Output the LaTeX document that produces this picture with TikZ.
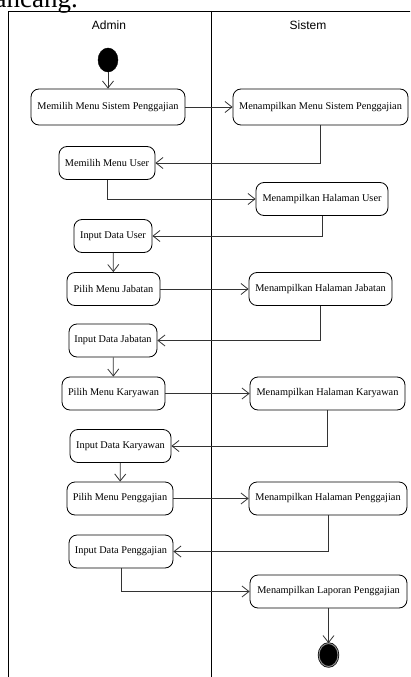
\documentclass[tikz,border=0pt]{standalone}
\usepackage{fontspec}
\setmainfont{Liberation Serif}
\newfontfamily\lanefont{Liberation Sans}
\usetikzlibrary{arrows.meta,shapes.geometric}

\tikzset{
  act/.style={draw=black, line width=0.8pt, rounded corners=8pt,
    minimum height=33pt, inner sep=2pt, font=\fontsize{10.3}{12}\selectfont},
  flow/.style={draw=black!80, line width=0.8pt,
    -{Straight Barb[length=7pt,width=11pt,line width=0.8pt]}},
  lane/.style={draw=black, line width=0.9pt},
  lanehead/.style={font=\lanefont\fontsize{12}{14}\selectfont},
  startdot/.style={ellipse, fill=black, draw=black, minimum width=20pt,
    minimum height=24pt, inner sep=0pt},
  enddot/.style={ellipse, fill=black, draw=black, double=black!45,
    double distance=1pt, line width=0.7pt, minimum width=19pt,
    minimum height=23pt, inner sep=0pt}
}

\begin{document}
\begin{tikzpicture}[x=1pt,y=-1pt]
\useasboundingbox (0,0) rectangle (410,677);
\clip (0,0) rectangle (410,677);

% heading text running above the diagram
\node[anchor=base east, inner sep=0pt, font=\fontsize{27}{30}\selectfont] (heading) at (78,8) {ancang.};

% swimlanes
\draw[lane] (8,677) -- (8,11) -- (412,11);
\draw[lane] (211,11) -- (211,677);
\node[lanehead] (admin) at (109,25) {Admin};
\node[lanehead] (sistem) at (308,25) {Sistem};

% start and end
\node[startdot] (start) at (108,60) {};
\node[enddot] (stop) at (328.5,655) {};

% activities, Admin lane
\node[act, minimum width=154pt, minimum height=36pt] (a1) at (108,107) {Memilih Menu Sistem Penggajian};
\node[act, minimum width=96pt]  (a3)  at (107,163)   {Memilih Menu User};
\node[act, minimum width=78pt]  (a5)  at (113,236)   {Input Data User};
\node[act, minimum width=93pt]  (a6)  at (113.5,289) {Pilih Menu Jabatan};
\node[act, minimum width=88pt]  (a8)  at (113,340.5) {Input Data Jabatan};
\node[act, minimum width=103pt] (a9)  at (113.5,393.5) {Pilih Menu Karyawan};
\node[act, minimum width=101pt] (a11) at (120.5,446) {Input Data Karyawan};
\node[act, minimum width=106pt] (a12) at (120,498.5) {Pilih Menu Penggajian};
\node[act, minimum width=104pt] (a14) at (121,551.5) {Input Data Penggajian};

% activities, Sistem lane
\node[act, minimum width=175pt, minimum height=36pt] (s2) at (320.5,107) {Menampilkan Menu Sistem Penggajian};
\node[act, minimum width=132pt] (s4)  at (322,199)   {Menampilkan Halaman User};
\node[act, minimum width=143pt] (s7)  at (320.5,289) {Menampilkan Halaman Jabatan};
\node[act, minimum width=155pt] (s10) at (327.5,393.5) {Menampilkan Halaman Karyawan};
\node[act, minimum width=158pt] (s13) at (328,498.5) {Menampilkan Halaman Penggajian};
\node[act, minimum width=157pt] (s15) at (328.5,591.5) {Menampilkan Laporan Penggajian};

% control flow
\draw[flow] (start) -- (a1);
\draw[flow] (a1) -- (s2);
\draw[flow] (s2.south) |- (a3.east);
\draw[flow] (a3.south) |- (s4.west);
\draw[flow] (s4.south) |- (a5.east);
\draw[flow] (a5) -- (a6);
\draw[flow] (a6) -- (s7);
\draw[flow] (s7.south) |- (a8.east);
\draw[flow] (a8) -- (a9);
\draw[flow] (a9) -- (s10);
\draw[flow] (s10.south) |- (a11.east);
\draw[flow] (a11) -- (a12);
\draw[flow] (a12) -- (s13);
\draw[flow] (s13.south) |- (a14.east);
\draw[flow] (a14.south) |- (s15.west);
\draw[flow] (s15) -- (stop);
\end{tikzpicture}
\end{document}
